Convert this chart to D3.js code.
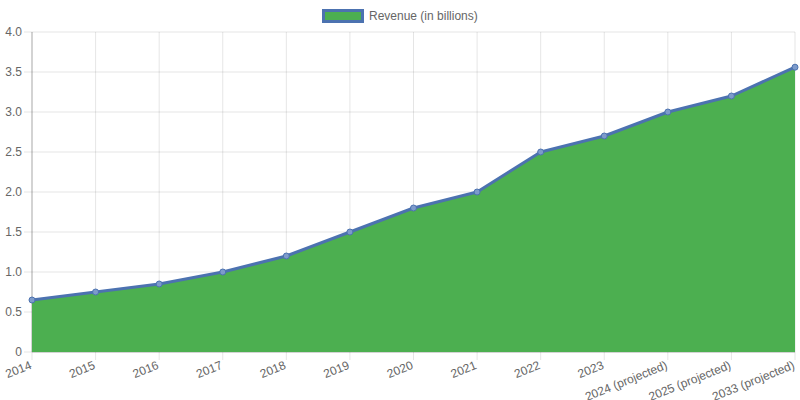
<!DOCTYPE html>
<html>
<head>
<meta charset="utf-8">
<script src="https://cdn.jsdelivr.net/npm/d3@7"></script>
<style>
  body { margin: 0; background: #fff; }
  svg { font-family: "Liberation Sans", Arial, Helvetica, sans-serif; }
</style>
</head>
<body>
<div id="chart"></div>
<script>
const years = ['2014', '2015', '2016', '2017', '2018', '2019', '2020', '2021', '2022', '2023',
  '2024 (projected)', '2025 (projected)', '2033 (projected)'];
const revenue = [0.65, 0.75, 0.85, 1.0, 1.2, 1.5, 1.8, 2.0, 2.5, 2.7, 3.0, 3.2, 3.56];
const yTicks = [0, 0.5, 1.0, 1.5, 2.0, 2.5, 3.0, 3.5, 4.0];
const seriesName = 'Revenue (in billions)';

const width = 800, height = 400;
const margin = { top: 32, right: 5, bottom: 48, left: 32 };
const innerW = width - margin.left - margin.right;
const innerH = height - margin.top - margin.bottom;

const lineColor = '#4c72b0';
const fillColor = '#4caf50';
const gridColor = 'rgba(0,0,0,0.1)';

let svg = d3.select('#chart')
  .append('svg')
  .attr('width', width)
  .attr('height', height);

let g = svg.append('g')
  .attr('transform', 'translate(' + margin.left + ',' + margin.top + ')');

let x = d3.scalePoint()
  .domain(years)
  .range([0, innerW]);

let y = d3.scaleLinear()
  .domain([0, 4])
  .range([innerH, 0]);

// horizontal grid + y ticks
g.selectAll('.hgrid').data(yTicks).enter()
  .append('line')
  .attr('class', 'hgrid')
  .attr('x1', -8).attr('x2', innerW)
  .attr('y1', d => y(d)).attr('y2', d => y(d))
  .attr('stroke', gridColor);

g.selectAll('.ylab').data(yTicks).enter()
  .append('text')
  .attr('class', 'ylab')
  .attr('x', -10)
  .attr('y', d => y(d))
  .attr('dy', '0.35em')
  .attr('text-anchor', 'end')
  .attr('font-size', 12)
  .attr('fill', '#666')
  .text(d => d === 0 ? '0' : d.toFixed(1));

// vertical grid + x ticks
g.selectAll('.vgrid').data(years).enter()
  .append('line')
  .attr('class', 'vgrid')
  .attr('x1', d => x(d)).attr('x2', d => x(d))
  .attr('y1', 0).attr('y2', innerH + 8)
  .attr('stroke', gridColor);

g.selectAll('.xlab').data(years).enter()
  .append('text')
  .attr('class', 'xlab')
  .attr('transform', d => 'translate(' + (x(d) - 3) + ',' + (innerH + 8) + ') rotate(-22)')
  .attr('dy', '0.75em')
  .attr('text-anchor', 'end')
  .attr('font-size', 12)
  .attr('fill', '#666')
  .text(d => d);

// axis lines
g.append('line')
  .attr('x1', 0).attr('x2', 0).attr('y1', 0).attr('y2', innerH)
  .attr('stroke', 'rgba(0,0,0,0.25)');
g.append('line')
  .attr('x1', 0).attr('x2', innerW).attr('y1', innerH).attr('y2', innerH)
  .attr('stroke', 'rgba(0,0,0,0.25)');

const data = years.map((d, i) => ({ year: d, value: revenue[i] }));

let area = d3.area()
  .x(d => x(d.year))
  .y0(y(0))
  .y1(d => y(d.value));

let line = d3.line()
  .x(d => x(d.year))
  .y(d => y(d.value));

g.append('path')
  .datum(data)
  .attr('d', area)
  .attr('fill', fillColor);

g.append('path')
  .datum(data)
  .attr('d', line)
  .attr('fill', 'none')
  .attr('stroke', lineColor)
  .attr('stroke-width', 3)
  .attr('stroke-linejoin', 'round');

g.selectAll('circle').data(data).enter()
  .append('circle')
  .attr('cx', d => x(d.year))
  .attr('cy', d => y(d.value))
  .attr('r', 3)
  .attr('fill', '#7d9bcb')
  .attr('stroke', lineColor)
  .attr('stroke-width', 1);

// legend
let legend = svg.append('g').attr('transform', 'translate(322,9)');
legend.append('rect')
  .attr('x', 1.5).attr('y', 1.5)
  .attr('width', 39).attr('height', 11)
  .attr('fill', fillColor)
  .attr('stroke', lineColor)
  .attr('stroke-width', 3);
legend.append('text')
  .attr('x', 47)
  .attr('y', 7)
  .attr('dy', '0.35em')
  .attr('font-size', 12)
  .attr('fill', '#666')
  .text(seriesName);
</script>
</body>
</html>
